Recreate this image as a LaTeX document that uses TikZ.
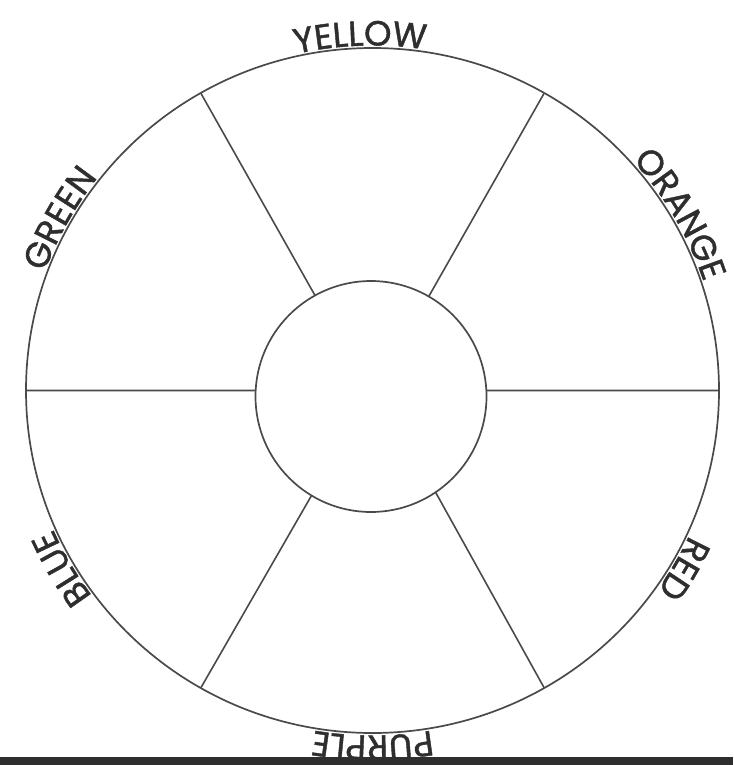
\documentclass[tikz,border=0pt]{standalone}
\usepackage{fontspec}
\newfontfamily\labelfont[FakeBold=1.2]{Poppins}
\usetikzlibrary{shapes.geometric,decorations.text}
\definecolor{ink}{HTML}{4A4A4A}
\definecolor{txt}{HTML}{2E2E2E}
\tikzset{
  wheelline/.style={draw=ink, line width=1.7pt},
  spoke/.style={draw=ink, line width=1.6pt},
  ringlabel/.style={decorate, decoration={text along path, text align=center,
     text color=txt, text={|\labelfont\fontsize{35}{38}\selectfont|#1}}}
}
\begin{document}
\begin{tikzpicture}[x=1pt,y=1pt]
\useasboundingbox (0,0) rectangle (733,-765);
\fill[white] (0,0) rectangle (733,-765);
\coordinate (C) at (372.5,-390.5);
\node[ellipse, wheelline, minimum width=693pt, minimum height=685pt, inner sep=0pt, outer sep=0pt] (outer) at (C) {};
\node[circle, wheelline, minimum size=231pt, inner sep=0pt, outer sep=0pt] (inner) at (371,-396.5) {};
\draw[spoke] (inner.3) -- (outer.0);
\draw[spoke] (inner.60) -- (outer.60);
\draw[spoke] (inner.119) -- (outer.120);
\draw[spoke] (inner.177) -- (outer.180);
\draw[spoke] (inner.239) -- (outer.240);
\draw[spoke] (inner.304) -- (outer.300);
% labels along the rim, clockwise
\path[ringlabel={YELLOW}] ([shift={(C)}]129:349 and 345) arc[start angle=129, end angle=55, x radius=349, y radius=345];
\path[ringlabel={ORANGE}] ([shift={(C)}]67:349 and 345) arc[start angle=67, end angle=-7, x radius=349, y radius=345];
\path[ringlabel={RED}] ([shift={(C)}]7:349 and 345) arc[start angle=7, end angle=-67, x radius=349, y radius=345];
\path[ringlabel={PURPLE}] ([shift={(C)}]-53:349 and 345) arc[start angle=-53, end angle=-127, x radius=349, y radius=345];
\path[ringlabel={BLUE}] ([shift={(C)}]-113:349 and 345) arc[start angle=-113, end angle=-187, x radius=349, y radius=345];
\path[ringlabel={GREEN}] ([shift={(C)}]188:349 and 345) arc[start angle=188, end angle=114, x radius=349, y radius=345];
\fill[black!82] (0,-757) rectangle (733,-765);
\end{tikzpicture}
\end{document}
